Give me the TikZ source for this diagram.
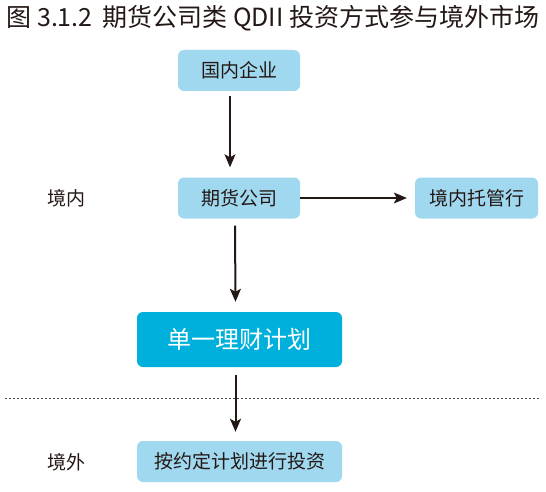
\documentclass[tikz,border=0pt]{standalone}
\usepackage{fontspec}
\setmainfont{Noto Sans CJK SC}
\usetikzlibrary{arrows.meta}
\definecolor{lightbox}{HTML}{A0D8EF}
\definecolor{darkbox}{HTML}{00B0DC}
\definecolor{inkc}{HTML}{231815}
\begin{document}
\begin{tikzpicture}[x=1pt,y=-1pt,
  lbox/.style={fill=lightbox, rounded corners=6pt, inner sep=0pt, font=\fontsize{19}{22}\selectfont, text=inkc},
  dbox/.style={fill=darkbox, rounded corners=6pt, inner sep=0pt, font=\fontsize{24}{27}\selectfont, text=white},
  lab/.style={font=\fontsize{19}{22}\selectfont, text=inkc},
  arr/.style={draw=inkc, -{Stealth[length=13pt,width=11pt,inset=3pt]}}]
\useasboundingbox (0,0) rectangle (546,492);
\node[font=\fontsize{25}{28}\selectfont, text=inkc, anchor=west] (title) at (3,18) {图 3.1.2\hspace{0.4em}期货公司类 QDII 投资方式参与境外市场};
\node[lbox, minimum width=122pt, minimum height=41pt] (a) at (239,70.5) {国内企业};
\node[lbox, minimum width=122pt, minimum height=41pt] (b) at (239,198) {期货公司};
\node[lbox, minimum width=123pt, minimum height=41pt] (c) at (476.5,198) {境内托管行};
\node[dbox, minimum width=205pt, minimum height=55pt] (d) at (239.5,339.5) {单一理财计划};
\node[lbox, minimum width=205pt, minimum height=41pt] (e) at (239.5,461.5) {按约定计划进行投资};
\node[lab] (l1) at (66,198) {境内};
\node[lab] (l2) at (66,462) {境外};
\coordinate (s1) at (5,398);
\coordinate (s2) at (541,398);
\draw[inkc!80, dash pattern=on 2pt off 2pt, line width=0.8pt] (s1) -- (s2);
\draw[arr, line width=1.2pt] ([xshift=-9pt,yshift=-5pt]a.south) -- ([xshift=-9pt,yshift=10pt]b.north);
\draw[arr, line width=1.2pt] (b.east) -- ([xshift=-8pt]c.west);
\draw[arr, line width=2pt] ([xshift=-4pt,yshift=-7pt]b.south) -- ([xshift=-4pt,yshift=10pt]d.north);
\draw[arr, line width=2pt] ([xshift=-4pt,yshift=-8pt]d.south) -- ([xshift=-4pt,yshift=9pt]e.north);
\end{tikzpicture}
\end{document}
